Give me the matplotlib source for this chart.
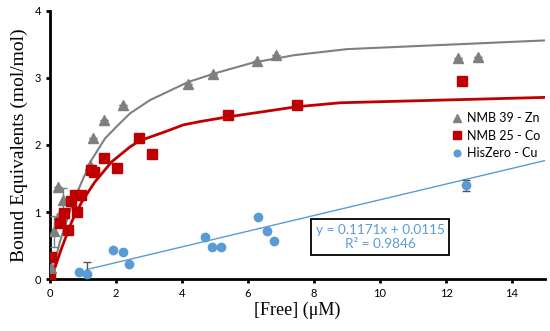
import matplotlib
matplotlib.use("Agg")
import matplotlib.pyplot as plt

# NMB 39 - Zn (grey triangles)
zn_x = [0.03, 0.13, 0.23, 0.3, 0.4, 1.21, 1.31, 1.62, 2.22, 4.19, 4.95, 6.28, 6.86, 12.37, 12.97]
zn_y = [0.16, 0.71, 1.38, 0.97, 1.18, 1.70, 2.10, 2.37, 2.60, 2.91, 3.06, 3.25, 3.34, 3.30, 3.32]
zn_err = [0, 0.23, 0, 0, 0.18, 0, 0, 0, 0, 0, 0, 0, 0, 0, 0]
zn_fit_x = [0, 0.05, 0.3, 0.66, 0.96, 1.26, 1.67, 2.07, 2.42, 3.03, 4.19, 5.0, 6.16, 7.4, 9.0, 15]
zn_fit_y = [0, 0.06, 0.56, 1.10, 1.45, 1.78, 2.10, 2.30, 2.47, 2.67, 2.94, 3.07, 3.23, 3.34, 3.43, 3.56]

# NMB 25 - Co (red squares)
co_x = [0, 0.03, 0.3, 0.42, 0.54, 0.64, 0.76, 0.83, 0.93, 1.24, 1.33, 1.64, 2.02, 2.7, 3.09, 5.4, 7.49, 12.47]
co_y = [0, 0.33, 0.83, 0.98, 0.73, 1.16, 1.25, 1.0, 1.26, 1.63, 1.59, 1.81, 1.66, 2.10, 1.86, 2.44, 2.59, 2.955]
co_fit_x = [0, 0.05, 0.35, 0.66, 0.96, 1.36, 1.87, 2.42, 2.7, 3.5, 4.04, 4.55, 5.4, 7.47, 8.8, 15]
co_fit_y = [0, 0.03, 0.46, 0.86, 1.15, 1.45, 1.75, 1.97, 2.06, 2.20, 2.30, 2.35, 2.42, 2.57, 2.63, 2.71]

# HisZero - Cu (blue circles) + linear trendline
cu_x = [0.89, 1.11, 1.9, 2.2, 2.4, 4.7, 4.9, 5.19, 6.29, 6.56, 6.8, 12.6]
cu_y = [0.11, 0.07, 0.43, 0.40, 0.23, 0.63, 0.48, 0.48, 0.925, 0.72, 0.57, 1.40]
cu_err = [0, 0.18, 0, 0, 0, 0, 0, 0, 0, 0, 0, 0.08]
slope, intercept = 0.1171, 0.0115
trend_x = [1.1, 15]

grey = "#7f7f7f"
red = "#c00000"
blue = "#5b9bd5"

plt.rcParams["font.family"] = ["Lato", "DejaVu Sans"]

fig = plt.figure(figsize=(5.5, 3.31), dpi=100)
ax = fig.add_axes([0.091, 0.157, 0.9, 0.81])

ax.plot(zn_fit_x, zn_fit_y, color=grey, lw=1.5, zorder=2)
ax.plot(co_fit_x, co_fit_y, color=red, lw=2, zorder=2)
ax.plot(trend_x, [slope * x + intercept for x in trend_x], color=blue, lw=1, zorder=2)

ax.errorbar(zn_x, zn_y, yerr=zn_err, fmt="^", color=grey, ms=6.5, ecolor=grey,
            elinewidth=1, capsize=3, label="NMB 39 - Zn", zorder=3)
ax.errorbar(co_x, co_y, yerr=None, fmt="s", color=red, ms=7, label="NMB 25 - Co", zorder=4)
ax.errorbar(cu_x, cu_y, yerr=cu_err, fmt="o", color=blue, ms=6, ecolor="#555555",
            elinewidth=1, capsize=3, label="HisZero - Cu", zorder=3)

ax.text(10.0, 0.63, "y = 0.1171x + 0.0115\nR² = 0.9846", color=blue, fontsize=9.8,
        ha="center", va="center", linespacing=1.25, zorder=6,
        bbox=dict(boxstyle="square,pad=0.35", fc="white", ec="black", lw=1.3))

ax.set_xlim(0, 15)
ax.set_ylim(0, 4)
ax.set_xticks(range(0, 15, 2))
ax.set_yticks(range(0, 5))
for s in ["top", "right"]:
    ax.spines[s].set_visible(False)
for s in ["left", "bottom"]:
    ax.spines[s].set_linewidth(2)
ax.tick_params(direction="out", length=3, width=2, labelsize=8)

ax.set_xlabel("[Free] (μM)", family="Liberation Serif", fontsize=13, labelpad=2)
ax.set_ylabel("Bound Equivalents (mol/mol)", family="Liberation Serif", fontsize=14, labelpad=5)

handles, labels = ax.get_legend_handles_labels()
handles = [h[0] for h in handles]
ax.legend(handles, labels, loc="upper left", bbox_to_anchor=(0.812, 0.68),
          bbox_transform=fig.transFigure, frameon=False, fontsize=9,
          handlelength=0.6, handletextpad=0.5, labelspacing=0.45, borderpad=0,
          markerscale=0.8)

fig.savefig("out.png", dpi=100)
